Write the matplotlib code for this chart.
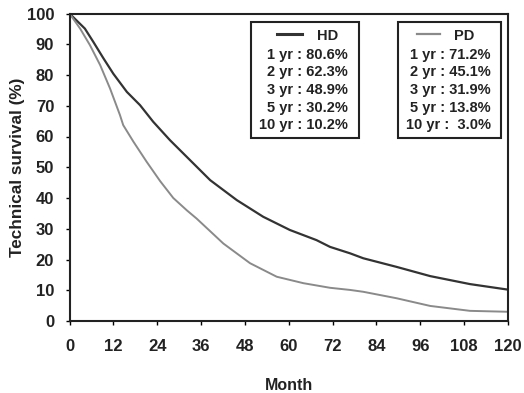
import matplotlib
matplotlib.use("Agg")
import matplotlib.pyplot as plt
from matplotlib.patches import Rectangle
from matplotlib.lines import Line2D

# ---- data ----
hd_months = [0, 4.2, 6.5, 9.3, 12, 15.7, 19.3, 22.9, 27.5, 33, 38.5, 45.8, 53,
             60.3, 67.6, 71.3, 76.8, 80.4, 89.5, 98.7, 109.6, 120]
hd_values = [100, 95.1, 90.8, 85.4, 80.4, 74.5, 70.2, 64.8, 58.8, 52.3, 45.8,
             39.3, 33.9, 29.6, 26.3, 24.1, 22.0, 20.4, 17.6, 14.6, 12.0, 10.2]
pd_months = [0, 2.9, 5.6, 8.4, 11.1, 13.8, 14.7, 17.5, 21.1, 24.8, 28.4, 32.1,
             34.8, 42.1, 49.4, 56.7, 64, 71.3, 76.8, 80.4, 89.5, 98.7, 109.6, 120]
pd_values = [100, 95.1, 89.7, 83.2, 75.6, 67.0, 63.7, 58.3, 51.8, 45.5, 40.0,
             36.0, 33.3, 25.2, 18.8, 14.4, 12.3, 10.8, 10.1, 9.5, 7.4, 4.9, 3.3, 3.0]
x_ticks = [0, 12, 24, 36, 48, 60, 72, 84, 96, 108, 120]
y_ticks = [0, 10, 20, 30, 40, 50, 60, 70, 80, 90, 100]
hd_labels = ["1 yr : 80.6%", "2 yr : 62.3%", "3 yr : 48.9%", "5 yr : 30.2%", "10 yr : 10.2%"]
pd_labels = ["1 yr : 71.2%", "2 yr : 45.1%", "3 yr : 31.9%", "5 yr : 13.8%", "10 yr :  3.0%"]

W, H = 524, 393
plt.rcParams['font.family'] = ['Liberation Sans', 'DejaVu Sans']
fig = plt.figure(figsize=(W / 100, H / 100), dpi=100)

def fx(px):
    return px / W

def fy(py):
    return 1 - py / H

ax = fig.add_axes([fx(69.5), fy(321), fx(508) - fx(69.5), fy(13.5) - fy(321)])
hd_col = "#333333"
pd_col = "#8a8a8a"
ax.plot(hd_months, hd_values, color=hd_col, lw=1.6)
ax.plot(pd_months, pd_values, color=pd_col, lw=1.4)
ax.set_xlim(0, 120)
ax.set_ylim(0, 100)
ax.set_xticks(x_ticks)
ax.set_yticks(y_ticks)
for s in ax.spines.values():
    s.set_linewidth(1.5)
    s.set_color("#222222")
ax.tick_params(axis='y', direction='out', length=3, width=1, pad=8, labelsize=12)
ax.tick_params(axis='x', direction='out', length=3, width=1, pad=10, labelsize=12)
for lab in ax.get_xticklabels() + ax.get_yticklabels():
    lab.set_fontweight('bold')
    lab.set_color("#222222")
ax.set_xlabel("Month", fontweight='bold', fontsize=11.5, labelpad=17, color="#222222")
ax.set_ylabel("Technical survival (%)", fontweight='bold', fontsize=12.3, labelpad=1, color="#222222")

# ---- legend boxes ----
def legend_box(x0, x1, title, col, lw, labels, right_x, line_x0, line_x1, title_x):
    fig.patches.append(Rectangle((fx(x0), fy(138)), fx(x1) - fx(x0), fy(22) - fy(138),
                                 transform=fig.transFigure, fill=True, facecolor='white',
                                 edgecolor='#222222', lw=1.5, zorder=5))
    fig.lines.append(Line2D([fx(line_x0), fx(line_x1)], [fy(34), fy(34)],
                            transform=fig.transFigure, color=col, lw=lw + 0.6, zorder=6))
    fig.text(fx(title_x), fy(36), title, ha='center', va='center', fontsize=10.5,
             fontweight='bold', color='#222222', zorder=6)
    for i, t in enumerate(labels):
        fig.text(fx(right_x), fy(54.5 + i * 17.7), t, ha='right', va='center',
                 fontsize=10.5, fontweight='bold', color='#222222', zorder=6)

legend_box(251, 359, "HD", hd_col, 1.6, hd_labels, 348, 277, 302, 328)
legend_box(398, 501, "PD", pd_col, 1.0, pd_labels, 491, 417, 440, 464)

fig.savefig("out.png", dpi=100)
